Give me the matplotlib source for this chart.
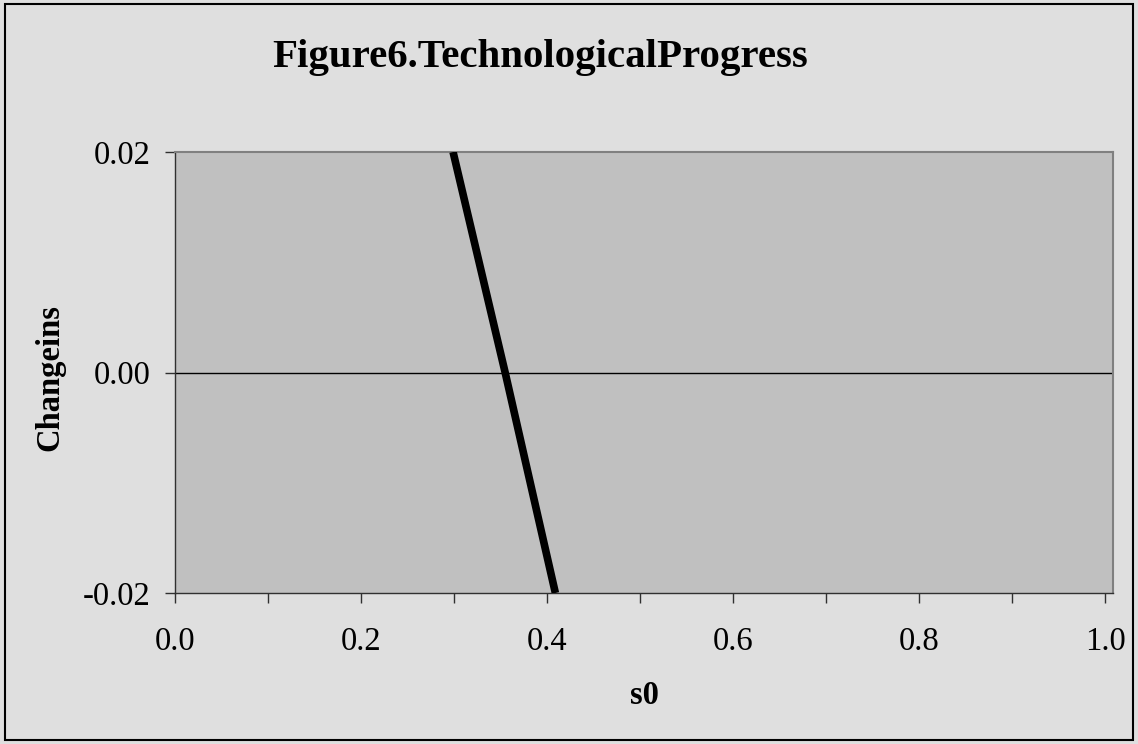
import numpy as np
import matplotlib.pyplot as plt
from matplotlib.ticker import FuncFormatter

# change in s against s0, technological progress case
s0 = [0.299, 0.355, 0.409]
change_s = [0.02, 0.0, -0.02]

title = "Figure6.TechnologicalProgress"
xlabel = "s0"
ylabel = "Changeins"
y_ticks = [-0.02, 0.0, 0.02]

plt.rcParams['font.family'] = ['Liberation Serif', 'DejaVu Serif']

fig = plt.figure(figsize=(11.38, 7.44), dpi=100, facecolor='#dfdfdf')
ax = fig.add_axes([175 / 1138, 1 - 593 / 744, (1113 - 175) / 1138, (593 - 152) / 744])
ax.set_facecolor('#c0c0c0')

ax.axhline(0, color='black', lw=1.0, zorder=2)
ax.plot(s0, change_s, color='black', lw=5.5, solid_capstyle='butt', zorder=3)

ax.set_xlim(0, 1.0086)
ax.set_ylim(-0.02, 0.02)
ax.set_xticks(np.round(np.arange(0, 1.01, 0.1), 1))
ax.xaxis.set_major_formatter(FuncFormatter(
    lambda v, p: f"{v:.1f}" if round(v * 10) % 2 == 0 else ""))
ax.set_yticks(y_ticks)
ax.yaxis.set_major_formatter(FuncFormatter(lambda v, p: f"{v:.2f}"))
ax.tick_params(axis='both', direction='out', length=7.2, width=1, color='#303030',
               labelsize=23.5)
ax.tick_params(axis='y', pad=10.5)
ax.tick_params(axis='x', pad=17)

for side in ['left', 'bottom']:
    ax.spines[side].set_color('#303030')
    ax.spines[side].set_linewidth(1.0)
for side in ['top', 'right']:
    ax.spines[side].set_color('#808080')
    ax.spines[side].set_linewidth(1.5)

fig.text(272 / 1138, 1 - 67 / 744, title, ha='left', va='baseline',
         fontsize=29.4, fontweight='bold')
fig.text(644 / 1138, 1 - 696 / 744, xlabel, ha='center', va='center',
         fontsize=23.5, fontweight='bold')
fig.text(50 / 1138, 1 - 378 / 744, ylabel, ha='center', va='center',
         rotation=90, fontsize=23.5, fontweight='bold')

# outer chart border
fig.patches.append(plt.Rectangle((0.004, 0.005), 0.992, 0.99, transform=fig.transFigure,
                                 fill=False, edgecolor='black', lw=1.5))

fig.savefig('out.png', dpi=100, facecolor=fig.get_facecolor())
